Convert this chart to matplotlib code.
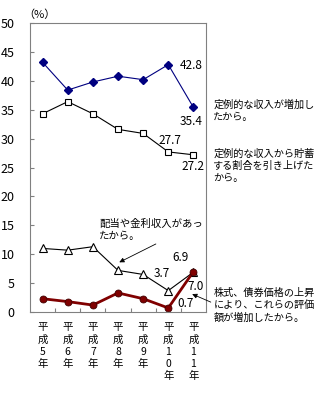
import numpy as np
import matplotlib.pyplot as plt

plt.rcParams['font.family'] = ['Noto Sans CJK JP', 'DejaVu Sans']

years = ['5', '6', '7', '8', '9', '10', '11']
teirei = [43.2, 38.4, 39.8, 40.8, 40.2, 42.8, 35.4]
chochiku = [34.3, 36.4, 34.3, 31.6, 30.9, 27.7, 27.2]
haito = [11.0, 10.7, 11.3, 7.2, 6.5, 3.7, 6.9]
kabushiki = [2.3, 1.8, 1.2, 3.3, 2.3, 0.7, 7.0]

fig = plt.figure(figsize=(3.32, 4.04), dpi=100)
ax = fig.add_axes([0.0904, 0.2277, 0.5301, 0.7153])

x = np.arange(len(years)) + 0.5
ax.plot(x, teirei, color='#000080', lw=0.8, marker='D', ms=4.5, mfc='#000080', mec='#000080')
ax.plot(x, chochiku, color='black', lw=0.8, marker='s', ms=5, mfc='white', mec='black', mew=0.8)
ax.plot(x, haito, color='black', lw=0.8, marker='^', ms=5.5, mfc='white', mec='black', mew=0.8)
ax.plot(x, kabushiki, color='#800000', lw=2, marker='o', ms=5, mfc='#800000', mec='#400000', mew=0.6)

ax.set_xlim(0, 7)
ax.set_ylim(0, 50)
ax.set_yticks(range(0, 51, 5))
ax.set_xticks(range(1, 7))
ax.set_xticklabels([])
ax.tick_params(axis='x', direction='in', length=3, color='#808080')
ax.tick_params(axis='y', direction='in', length=3, color='#808080', labelsize=9, pad=11)
for s in ax.spines.values():
    s.set_color('#808080')

for xi, y in zip(x, years):
    ax.text(xi, -1.8, '平\n成\n' + '\n'.join(y) + '\n年', ha='center', va='top',
            fontsize=7.5, linespacing=1.25)

ax.text(-0.25, 50.6, '（%）', fontsize=8, ha='left', va='bottom')

# data labels (placed as in the original)
fs = 8.5
ax.text(x[5] + 0.9, teirei[5] - 0.1, '42.8', fontsize=fs, va='center', ha='center')
ax.text(x[6] - 0.1, teirei[6] - 2.4, '35.4', fontsize=fs, va='center', ha='center')
ax.text(x[5] + 0.07, chochiku[5] + 2.0, '27.7', fontsize=fs, va='center', ha='center')
ax.text(x[6] - 0.02, chochiku[6] - 2.1, '27.2', fontsize=fs, va='center', ha='center')
ax.text(x[6] - 0.53, haito[6] + 2.5, '6.9', fontsize=fs, va='center', ha='center')
ax.text(x[5] - 0.25, haito[5] + 2.9, '3.7', fontsize=fs, va='center', ha='center')
ax.text(x[6] + 0.1, kabushiki[6] - 2.5, '7.0', fontsize=fs, va='center', ha='center')
ax.text(x[5] + 0.67, kabushiki[5] + 0.7, '0.7', fontsize=fs, va='center', ha='center')

ax.annotate('配当や金利収入があっ\nたから。', xy=(3.55, 8.6), xytext=(2.75, 14.2),
            fontsize=7.5, ha='left', va='center', linespacing=1.3,
            arrowprops=dict(arrowstyle='-|>', color='black', lw=0.6, mutation_scale=7,
                            shrinkA=0, shrinkB=0, relpos=(0.6, 0)))

fig.text(0.642, 0.725, '定例的な収入が増加し\nたから。', fontsize=7.3, va='center', ha='left',
         linespacing=1.3)
fig.text(0.642, 0.59, '定例的な収入から貯蓄\nする割合を引き上げた\nから。', fontsize=7.3,
         va='center', ha='left', linespacing=1.3)
ax.annotate('株式、債券価格の上昇\nにより、これらの評価\n額が増加したから。',
            xy=(6.45, 3.1), xytext=(7.3, 1.2), annotation_clip=False,
            fontsize=7.3, ha='left', va='center', linespacing=1.3,
            arrowprops=dict(arrowstyle='-|>', color='black', lw=0.6, mutation_scale=7,
                            shrinkA=0, shrinkB=0, relpos=(0, 0.55)))

fig.savefig('out.png', dpi=100)
